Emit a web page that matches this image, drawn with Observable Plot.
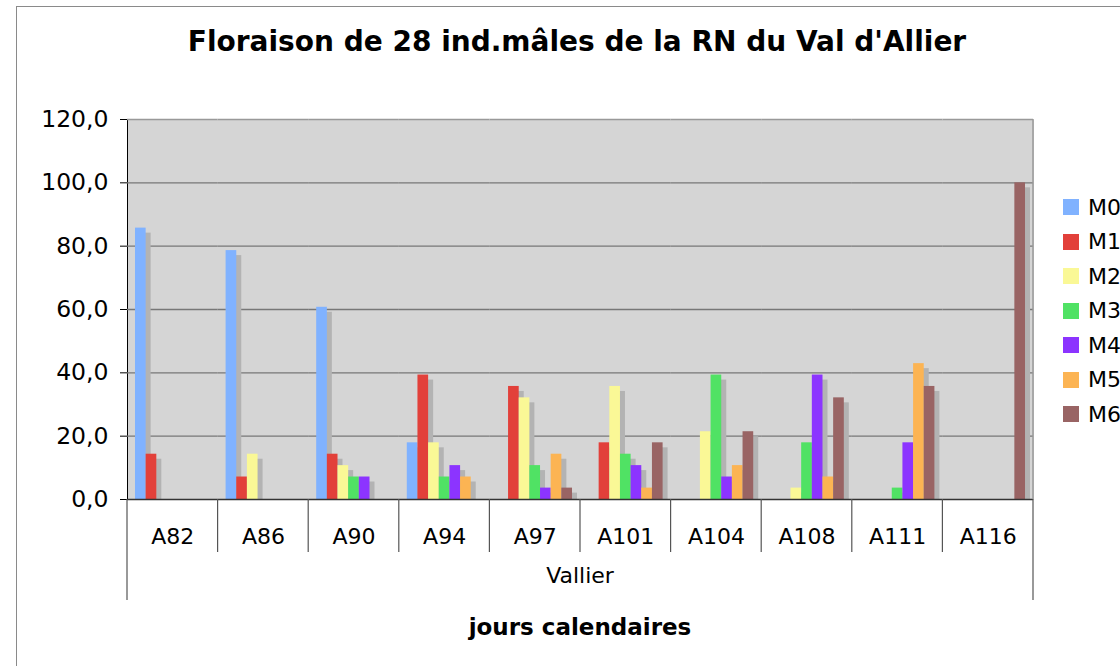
<!DOCTYPE html>
<html>
<head>
<meta charset="utf-8">
<script src="https://cdn.jsdelivr.net/npm/d3@7"></script>
<script src="https://cdn.jsdelivr.net/npm/@observablehq/plot@0.6"></script>
<style>
  html, body { margin: 0; padding: 0; background: #fff; }
  #wrap { position: relative; width: 1120px; height: 666px; overflow: hidden; font-family: "DejaVu Sans", sans-serif; }
  #border { position: absolute; left: 16px; top: 6px; width: 1200px; height: 800px; border-left: 1px solid #8a8a8a; border-top: 1px solid #8a8a8a; }
  #title { position: absolute; left: 0; width: 1154px; top: 24px; text-align: center; font-weight: bold; font-size: 28px; line-height: 36px; color: #000; }
  #legend { position: absolute; left: 1063px; top: 190px; }
  .li { height: 34.5px; display: flex; align-items: center; font-size: 22px; color: #000; white-space: nowrap; }
  .sw { width: 16px; height: 16px; margin-right: 9px; flex: none; }
  #chart { position: absolute; left: 0; top: 0; }
</style>
</head>
<body>
<div id="wrap">
  <div id="border"></div>
  <div id="chart"></div>
  <div id="title">Floraison de 28 ind.mâles de la RN du Val d'Allier</div>
  <div id="legend"></div>
</div>
<script>
const categories = ["A82", "A86", "A90", "A94", "A97", "A101", "A104", "A108", "A111", "A116"];
const series = ["M0", "M1", "M2", "M3", "M4", "M5", "M6"];
const M0 = [85.7, 78.6, 60.7, 17.9, 0, 0, 0, 0, 0, 0];
const M1 = [14.3, 7.1, 14.3, 39.3, 35.7, 17.9, 0, 0, 0, 0];
const M2 = [0, 14.3, 10.7, 17.9, 32.1, 35.7, 21.4, 3.6, 0, 0];
const M3 = [0, 0, 7.1, 7.1, 10.7, 14.3, 39.3, 17.9, 3.6, 0];
const M4 = [0, 0, 7.1, 10.7, 3.6, 10.7, 7.1, 39.3, 17.9, 0];
const M5 = [0, 0, 0, 7.1, 14.3, 3.6, 10.7, 7.1, 42.9, 0];
const M6 = [0, 0, 0, 0, 3.6, 17.9, 21.4, 32.1, 35.7, 100];
const seriesColors = ["#80b2ff", "#e2403a", "#faf896", "#50e264", "#8c34ff", "#fcb453", "#996464"];
const yTicks = [0, 20, 40, 60, 80, 100, 120];
const groupLabel = "Vallier";
const xTitle = "jours calendaires";

const seriesValues = [M0, M1, M2, M3, M4, M5, M6];
const data = [];
categories.forEach((c, i) => {
  series.forEach((s, j) => {
    data.push({category: c, serie: s, value: seriesValues[j][i]});
  });
});

const fmt = d => d.toFixed(1).replace(".", ",");

const chart = Plot.plot({
  width: 1120,
  height: 666,
  marginLeft: 127,
  marginRight: 87,
  marginTop: 119,
  marginBottom: 167,
  style: {fontFamily: "DejaVu Sans, sans-serif", fontSize: "22px", color: "#000", background: "transparent", overflow: "visible"},
  fx: {domain: categories, padding: 0, round: false, label: null, tickSize: 0, tickPadding: 29},
  x: {domain: series, paddingInner: 0, paddingOuter: 0.75, round: false, axis: null},
  y: {domain: [0, 120], ticks: yTicks, tickFormat: fmt, tickSize: 7, tickPadding: 12, label: null, line: true},
  color: {domain: series, range: seriesColors},
  facet: {data: data, x: "category"},
  marks: [
    Plot.frame({fill: "#d5d5d5", stroke: null, shapeRendering: "crispEdges"}),
    Plot.ruleY(yTicks.slice(1, -1), {stroke: "#777", strokeWidth: 1.3}),
    Plot.ruleY([120], {stroke: "#999", strokeWidth: 1.5}),
    Plot.barY(data, {x: "serie", y: "value", fill: "#b3b3b3", dx: 5, dy: 5, insetBottom: 5, filter: d => d.value > 0}),
    Plot.barY(data, {x: "serie", y: "value", fill: "serie", filter: d => d.value > 0}),
    Plot.ruleY([0], {stroke: "#333", strokeWidth: 1.5})
  ]
});
document.getElementById("chart").appendChild(chart);

const svg = d3.select(chart);
// slightly larger y tick labels, as in the reference
svg.selectAll('g[aria-label="y-axis"] text, g[aria-label="y-axis tick label"] text').attr("font-size", 23.5);

// Category separators, right border and lower labels, placed from the plot's own scales
const fxScale = chart.scale("fx");
const yScale = chart.scale("y");
const yBase = yScale.apply(0);
const yTop = yScale.apply(120);
const xLeft = fxScale.apply(categories[0]);
const xRight = fxScale.apply(categories[categories.length - 1]) + fxScale.bandwidth;
const g = svg.append("g").attr("stroke", "#555").attr("stroke-width", 1.2);
categories.slice(1).forEach(c => {
  const x = fxScale.apply(c);
  g.append("line").attr("x1", x).attr("x2", x).attr("y1", yBase).attr("y2", yBase + 53);
});
[xLeft, xRight].forEach(x => {
  g.append("line").attr("x1", x).attr("x2", x).attr("y1", yBase).attr("y2", yBase + 101);
});
svg.append("line").attr("x1", xRight).attr("x2", xRight).attr("y1", yTop).attr("y2", yBase)
  .attr("stroke", "#999").attr("stroke-width", 1.5);
svg.append("text").attr("x", (xLeft + xRight) / 2).attr("y", yBase + 84)
  .attr("text-anchor", "middle").attr("font-size", 22).text(groupLabel);
svg.append("text").attr("x", (xLeft + xRight) / 2).attr("y", yBase + 136)
  .attr("text-anchor", "middle").attr("font-size", 23).attr("font-weight", "bold").text(xTitle);

// Legend
const legend = document.getElementById("legend");
series.forEach((s, i) => {
  const item = document.createElement("div");
  item.className = "li";
  const sw = document.createElement("span");
  sw.className = "sw";
  sw.style.background = seriesColors[i];
  item.appendChild(sw);
  item.appendChild(document.createTextNode(s));
  legend.appendChild(item);
});
</script>
</body>
</html>
